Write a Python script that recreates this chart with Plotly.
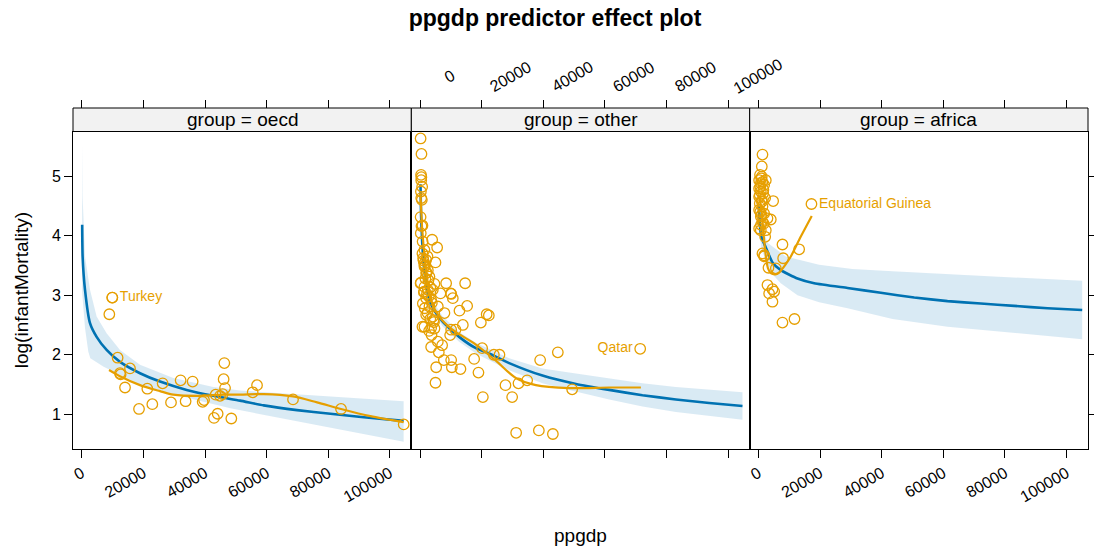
import plotly.graph_objects as go

BLUE = "#0072B2"
ORANGE = "#E69F00"
BAND = "rgba(0,114,178,0.15)"
FONT = "Liberation Sans, Arial, sans-serif"

panels = ["oecd", "other", "africa"]
x_ticks = [0, 20000, 40000, 60000, 80000, 100000]
x_tick_labels = ["0", "20000", "40000", "60000", "80000", "100000"]
y_ticks = [1, 2, 3, 4, 5]
x_range = [-2860, 106980]
y_range = [0.418, 5.747]

# ---------------- oecd ----------------
oecd_x = [9900, 8930, 11630, 12400, 12600, 15650, 14030, 18570, 21270, 22890, 26240, 28960,
          32080, 33700, 35980, 39230, 39680, 46270, 46040, 46500, 43450, 44870, 45720, 44100,
          42920, 48540, 56890, 55470, 68570, 84160, 104500]
oecd_y = [2.96, 2.68, 1.95, 1.69, 1.67, 1.77, 1.45, 1.09, 1.43, 1.17, 1.52, 1.20,
          1.57, 1.22, 1.55, 1.21, 1.24, 1.86, 1.59, 1.44, 1.33, 1.31, 1.34, 1.01,
          0.94, 0.93, 1.49, 1.37, 1.25, 1.09, 0.83]
oecd_fit_x = [115, 260, 1040, 2660, 4810, 8050, 12400, 18890, 25390, 34030, 42700, 51370,
              59030, 69870, 80690, 91500, 104490]
oecd_fit_y = [4.18, 3.65, 3.09, 2.53, 2.30, 2.08, 1.88, 1.69, 1.55, 1.41, 1.31, 1.23,
              1.15, 1.07, 1.01, 0.95, 0.89]
oecd_up_x = [115, 260, 1040, 2660, 4810, 8050, 12400, 18890, 29710, 42700, 51370, 69870, 104490]
oecd_up_y = [5.55, 4.65, 3.65, 3.09, 2.64, 2.36, 2.08, 1.83, 1.61, 1.46, 1.40, 1.34, 1.22]
oecd_lo_x = [115, 260, 1040, 2110, 2760, 7080, 17920, 28740, 39550, 48220, 60000, 72000, 83000, 104490]
oecd_lo_y = [3.05, 2.85, 2.45, 2.05, 1.94, 1.80, 1.52, 1.35, 1.21, 1.10, 0.98, 0.86, 0.75, 0.54]
oecd_smooth_x = [8830, 12400, 18890, 25390, 29710, 38370, 45950, 51370, 59030, 68570, 76370,
                 84160, 93680, 104490]
oecd_smooth_y = [1.745, 1.64, 1.49, 1.39, 1.33, 1.31, 1.33, 1.33, 1.34, 1.30, 1.20,
                 1.09, 0.97, 0.87]

# ---------------- other ----------------
other_x = [150, 430, 300, 400, 350, 650, 250, 350, 550, 150, 750, 200, 3900, 5520, 1400, 970,
           1950, 4980, 1400, 2500, 1950, 3020, 150, 1400, 4650, 8440, 14610, 2500, 4120, 6590,
           10070, 10600, 870, 1950, 3570, 3020, 5740, 15260, 12770, 1950, 4120, 7890, 21600,
           22300, 19710, 13860, 1400, 3570, 4650, 10070, 11470, 9740, 5740, 7140, 3570, 6060,
           20130, 23930, 25750, 7690, 10070, 10290, 13090, 17530, 5200, 18930, 4980, 38960,
           44700, 27700, 31920, 34740, 20360, 29870, 31170, 38540, 43090, 49350,
           430, 750, 2370, 1300, 220, 9960, 1300, 4320, 750,
           1100, 1600, 2100, 2700, 1700, 3300, 2200, 2800, 3800, 1500, 2400, 3300, 4500,
           2900, 3700, 800, 1200]
other_y = [5.63, 5.37, 5.02, 4.98, 4.93, 4.82, 4.74, 4.63, 4.60, 4.31, 4.17, 4.04, 3.93, 3.80,
           3.76, 3.62, 3.59, 3.55, 3.48, 3.42, 3.37, 3.31, 3.20, 3.14, 3.19, 3.20, 3.20, 3.09,
           3.09, 3.03, 3.02, 2.95, 2.86, 2.95, 2.92, 2.81, 2.81, 2.82, 2.74, 2.67, 2.64, 2.70,
           2.68, 2.66, 2.54, 2.50, 2.47, 2.45, 2.44, 2.42, 2.42, 2.33, 2.22, 2.16, 2.13, 2.04,
           2.11, 2.00, 2.00, 1.91, 1.91, 1.79, 1.76, 1.93, 1.79, 1.70, 1.53, 1.91, 2.04, 1.49,
           1.52, 1.57, 1.29, 1.29, 0.69, 0.73, 0.67, 1.42,
           4.16, 3.70, 3.65, 3.53, 3.21, 3.03, 3.06, 2.58, 2.47,
           3.58, 3.50, 3.38, 3.25, 3.28, 3.13, 3.02, 2.98, 2.87, 2.78, 2.70, 2.60, 2.55,
           2.40, 2.33, 3.90, 3.05]
other_fit_x = [115, 300, 700, 1400, 2920, 4600, 7240, 12660, 18090, 22000, 28900, 39710,
               50560, 61370, 72180, 83030, 93840, 104650]
other_fit_y = [4.86, 4.35, 3.85, 3.40, 2.93, 2.74, 2.56, 2.30, 2.11, 2.03, 1.86, 1.65,
               1.51, 1.41, 1.32, 1.25, 1.19, 1.14]
other_up_x = [115, 1000, 2920, 7240, 12660, 18090, 28900, 39710, 48380, 61370, 72180, 83030,
              93840, 104650]
other_up_y = [5.05, 3.70, 3.00, 2.65, 2.38, 2.20, 1.94, 1.77, 1.70, 1.60, 1.52, 1.46, 1.41, 1.37]
other_lo_x = [115, 1000, 2920, 7240, 12660, 18090, 28900, 39710, 48380, 61370, 72180, 83030,
              93840, 104650]
other_lo_y = [4.65, 3.45, 2.85, 2.48, 2.22, 2.02, 1.74, 1.52, 1.41, 1.25, 1.13, 1.04, 0.97, 0.91]
other_smooth_x = [115, 750, 1840, 3460, 6170, 10490, 18090, 24580, 31070, 37570, 48380,
                  61370, 71660]
other_smooth_y = [4.71, 4.04, 3.48, 2.92, 2.64, 2.42, 2.17, 1.90, 1.61, 1.49, 1.44,
                  1.45, 1.45]

# ---------------- africa ----------------
africa_x = [1300, 1080, 1080, 216, 757, 1300, 1840, 2380, 200, 757, 1520, 216, 1080, 2170,
            430, 1300, 200, 1840, 757, 2920, 4000, 1300, 216, 2380, 2170, 7790, 13200, 1300,
            1840, 8010, 3250, 5630, 2920, 4540, 3460, 5090, 4540, 7790, 11690, 4760,
            500, 900, 600, 1600, 400, 1100, 600, 1000, 800, 1700, 750, 1850]
africa_y = [5.36, 5.16, 4.99, 4.93, 4.88, 4.90, 4.85, 4.93, 4.79, 4.74, 4.71, 4.65, 4.60, 4.63,
            4.54, 4.49, 4.43, 4.37, 4.32, 4.29, 4.27, 4.23, 4.12, 4.09, 3.98, 3.85, 3.77, 3.70,
            3.65, 3.62, 3.46, 3.45, 3.17, 3.10, 3.03, 3.06, 2.89, 2.54, 2.60, 4.58,
            5.02, 4.96, 4.82, 4.77, 4.68, 4.57, 4.40, 4.35, 4.18, 4.20, 4.09, 3.67]
africa_fit_x = [115, 500, 1000, 2380, 4540, 7240, 12660, 18090, 28900, 39710, 50560, 61370,
                72180, 83030, 93840, 105100]
africa_fit_y = [4.50, 4.15, 3.97, 3.80, 3.55, 3.42, 3.28, 3.20, 3.12, 3.04, 2.96, 2.90,
                2.86, 2.82, 2.78, 2.75]
africa_up_x = [115, 1000, 2920, 8870, 19690, 30500, 43520, 73300, 105100]
africa_up_y = [4.85, 4.20, 3.88, 3.65, 3.51, 3.44, 3.40, 3.32, 3.24]
africa_lo_x = [115, 1000, 2380, 4540, 7240, 12660, 19690, 28900, 43520, 61370, 83030, 105100]
africa_lo_y = [4.20, 3.75, 3.60, 3.35, 3.20, 3.00, 2.88, 2.78, 2.60, 2.47, 2.36, 2.26]
africa_smooth_x = [200, 800, 1300, 1700, 2400, 3100, 4000, 5500, 6700, 8300, 10500, 13700, 17300]
africa_smooth_y = [4.65, 4.50, 4.25, 4.00, 3.65, 3.45, 3.37, 3.35, 3.38, 3.48, 3.65, 3.98, 4.33]

# labelled points (drawn as point + name)
label_names = ["Turkey", "Qatar", "Equatorial Guinea"]
label_x = [9900, 71440, 17200]
label_y = [2.96, 2.10, 4.53]
label_pos = ["middle right", "middle left", "middle right"]

data = {
    "oecd": (oecd_x, oecd_y, oecd_fit_x, oecd_fit_y, oecd_up_x, oecd_up_y, oecd_lo_x, oecd_lo_y,
             oecd_smooth_x, oecd_smooth_y),
    "other": (other_x, other_y, other_fit_x, other_fit_y, other_up_x, other_up_y, other_lo_x,
              other_lo_y, other_smooth_x, other_smooth_y),
    "africa": (africa_x, africa_y, africa_fit_x, africa_fit_y, africa_up_x, africa_up_y,
               africa_lo_x, africa_lo_y, africa_smooth_x, africa_smooth_y),
}

marker = dict(symbol="circle-open", size=10.5, color=ORANGE, line=dict(width=1.3, color=ORANGE))

fig = go.Figure()
for i, g in enumerate(panels):
    xa = "x" if i == 0 else f"x{i+1}"
    ya = "y" if i == 0 else f"y{i+1}"
    px_, py_, fx, fy, ux, uy, lx, ly, sx, sy = data[g]
    fig.add_trace(go.Scatter(x=ux + lx[::-1], y=uy + ly[::-1], fill="toself", fillcolor=BAND,
                             line=dict(width=0), mode="lines", xaxis=xa, yaxis=ya,
                             hoverinfo="skip", showlegend=False))
    fig.add_trace(go.Scatter(x=fx, y=fy, mode="lines",
                             line=dict(color=BLUE, width=2.6, shape="spline", smoothing=0.5),
                             xaxis=xa, yaxis=ya, showlegend=False))
    fig.add_trace(go.Scatter(x=px_, y=py_, mode="markers", marker=marker,
                             xaxis=xa, yaxis=ya, showlegend=False))
    fig.add_trace(go.Scatter(x=sx, y=sy, mode="lines",
                             line=dict(color=ORANGE, width=2.2, shape="spline", smoothing=0.8),
                             xaxis=xa, yaxis=ya, showlegend=False))
    fig.add_trace(go.Scatter(x=[label_x[i]], y=[label_y[i]], mode="markers+text",
                             text=[label_names[i]], textposition=label_pos[i], marker=marker,
                             textfont=dict(color=ORANGE, size=14, family=FONT),
                             xaxis=xa, yaxis=ya, showlegend=False))
    # invisible anchor trace for the top tick axes
    fig.add_trace(go.Scatter(x=[0], y=[1], mode="markers", marker=dict(opacity=0),
                             xaxis=f"x{i+4}", yaxis=ya, hoverinfo="skip", showlegend=False))

PLOT_W = 1015.0
PLOT_H = 341.0
D = 317.5 / PLOT_H
doms = [[0, 1/3], [1/3, 2/3], [2/3, 1]]
tickfont = dict(size=16, family=FONT, color="black")
layout = dict(
    width=1094, height=548,
    margin=dict(l=73, r=6, t=108, b=99, autoexpand=False),
    paper_bgcolor="white", plot_bgcolor="white",
    font=dict(family=FONT, color="black"),
    showlegend=False,
    title=dict(text="<b>ppgdp predictor effect plot</b>", x=555/1094, xref="container",
               xanchor="center", y=1 - 18/548, yref="container", yanchor="middle",
               automargin=False, font=dict(size=23, family=FONT, color="black")),
)
for i in range(3):
    key = "xaxis" if i == 0 else f"xaxis{i+1}"
    layout[key] = dict(domain=doms[i], range=x_range, anchor="y" if i == 0 else f"y{i+1}",
                       tickvals=x_ticks, ticktext=x_tick_labels, tickangle=-30,
                       showticklabels=(i != 1), ticks="outside", ticklen=8, tickcolor="black",
                       showline=True, mirror=True, linecolor="black", linewidth=1,
                       showgrid=False, zeroline=False, tickfont=tickfont, automargin=False)
    layout[f"xaxis{i+4}"] = dict(domain=doms[i], range=x_range, anchor="free", position=1,
                                 overlaying="x" if i == 0 else f"x{i+1}", side="top",
                                 tickvals=x_ticks, showticklabels=False, ticks="outside",
                                 ticklen=8, tickcolor="black", showline=False, showgrid=False,
                                 zeroline=False, automargin=False)
    ykey = "yaxis" if i == 0 else f"yaxis{i+1}"
    yd = dict(domain=[0, D], range=y_range, anchor="x" if i == 0 else f"x{i+1}",
              tickvals=y_ticks, showline=True, mirror=True, linecolor="black", linewidth=1,
              showgrid=False, zeroline=False, tickfont=tickfont, tickcolor="black", ticklen=8,
              automargin=False)
    if i == 0:
        yd.update(ticks="outside", showticklabels=True)
    elif i == 1:
        yd.update(ticks="", showticklabels=False)
    else:
        yd.update(ticks="outside", showticklabels=False, side="right")
    layout[ykey] = yd

shapes = []
annotations = []
for i, g in enumerate(panels):
    shapes.append(dict(type="rect", xref="paper", yref="paper", x0=doms[i][0], x1=doms[i][1],
                       y0=D, y1=1, fillcolor="#F2F2F2", line=dict(color="black", width=1)))
    annotations.append(dict(text=f"group = {g}", xref="paper", yref="paper",
                            x=(doms[i][0] + doms[i][1]) / 2, y=(D + 1) / 2, showarrow=False,
                            xanchor="center", yanchor="middle",
                            font=dict(size=19, family=FONT, color="black")))
# top tick labels of the middle panel: rotated, centred a little to the right of each tick
for v, t in zip(x_ticks, x_tick_labels):
    frac = (v - x_range[0]) / (x_range[1] - x_range[0])
    xp = doms[1][0] + frac * (doms[1][1] - doms[1][0]) + 29 / PLOT_W
    annotations.append(dict(text=t, xref="paper", yref="paper", x=xp,
                            y=1 + (108 - 76) / PLOT_H, textangle=-30, showarrow=False,
                            xanchor="center", yanchor="middle", font=tickfont))
annotations.append(dict(text="ppgdp", xref="paper", yref="paper", x=0.5, y=-(535 - 449) / PLOT_H,
                        showarrow=False, xanchor="center", yanchor="middle",
                        font=dict(size=19, family=FONT, color="black")))
annotations.append(dict(text="log(infantMortality)", xref="paper", yref="paper",
                        x=(21 - 73) / PLOT_W, y=D / 2, textangle=-90, showarrow=False,
                        xanchor="center", yanchor="middle",
                        font=dict(size=19, family=FONT, color="black")))
layout["shapes"] = shapes
layout["annotations"] = annotations
fig.update_layout(**layout)
fig.write_html("out.html", config={"displayModeBar": False},
               post_script="document.body.style.margin='0';document.body.style.padding='0';")
